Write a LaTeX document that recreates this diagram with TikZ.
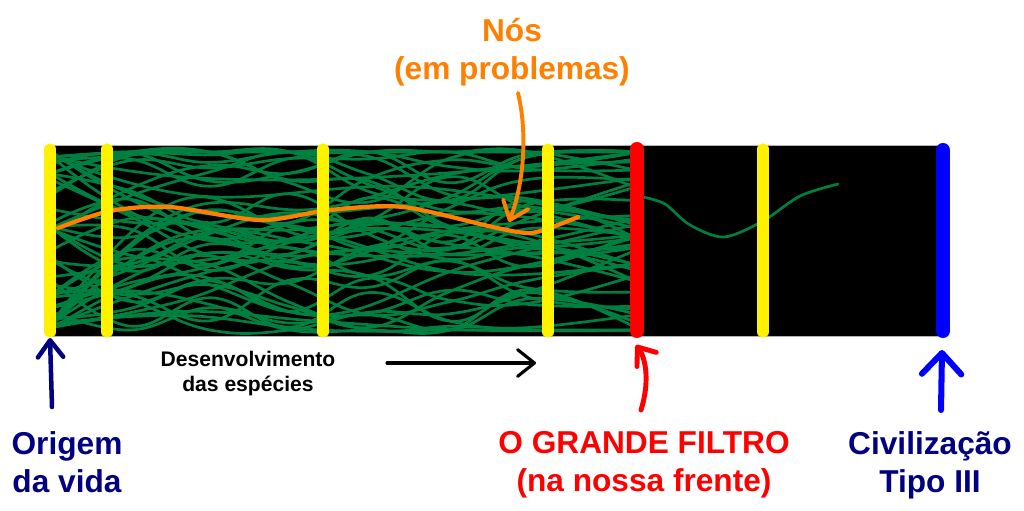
\documentclass[tikz,border=0pt]{standalone}
\usepackage{fontspec}
\setmainfont{Liberation Sans}
\usetikzlibrary{arrows.meta}

\definecolor{lifegreen}{RGB}{0,128,64}
\definecolor{usorange}{RGB}{255,128,0}
\definecolor{darknavy}{RGB}{0,0,128}

\begin{document}
\begin{tikzpicture}[x=0.025cm,y=-0.025cm,
    bar/.style={line width=#1,line cap=round},
    species/.style={lifegreen,line width=1.9pt,line cap=round},
    big/.style={font=\fontsize{22.5}{27}\selectfont\bfseries,align=center,inner sep=0pt,anchor=north},
    small/.style={font=\fontsize{15}{17.8}\selectfont\bfseries,align=center,inner sep=0pt,anchor=north},
    hand/.style n args={3}{line width=#1,line cap=round,line join=round,
      -{Straight Barb[round,length=#2,width=#3]}}]
  \useasboundingbox (0,0) rectangle (1024,511);
  % the box of time
  \coordinate (boxnw) at (50,145);
  \coordinate (boxse) at (945,336);
  \fill[black] (boxnw) rectangle (boxse);
  \draw[gray!60,thin] (boxnw) rectangle (boxse);
  % species lines, kept inside the box up to the filter
  \begin{scope}
    \clip (50,145) rectangle (637,336);
    \pgfmathsetseed{23}
    \foreach \i in {1,...,38} {
      \pgfmathsetmacro{\ya}{155+rnd*172}
      \pgfmathsetmacro{\yb}{min(330,max(152,\ya+rand*45))}
      \pgfmathsetmacro{\yc}{min(330,max(152,\yb+rand*45))}
      \pgfmathsetmacro{\yd}{min(330,max(152,\yc+rand*45))}
      \pgfmathsetmacro{\ye}{min(330,max(152,\yd+rand*45))}
      \pgfmathsetmacro{\yf}{min(330,max(152,\ye+rand*45))}
      \pgfmathsetmacro{\yg}{min(330,max(152,\yf+rand*45))}
      \pgfmathsetmacro{\yh}{min(330,max(152,\yg+rand*45))}
      \draw[species] plot[smooth,tension=0.7] coordinates
        {(52,\ya) (130,\yb) (210,\yc) (290,\yd) (370,\ye) (450,\yf) (530,\yg) (640,\yh)};
    }
    % fan out of the bottom left corner
    \foreach \i in {1,...,10} {
      \pgfmathsetmacro{\yb}{200+rnd*125}
      \pgfmathsetmacro{\yc}{min(330,max(152,\yb+rand*50))}
      \pgfmathsetmacro{\yd}{min(330,max(152,\yc+rand*50))}
      \pgfmathsetmacro{\ye}{min(330,max(152,\yd+rand*50))}
      \draw[species] plot[smooth,tension=0.7] coordinates
        {(52,{322+rnd*8}) (180,\yb) (320,\yc) (470,\yd) (640,\ye)};
    }
    % and a few from the top left corner
    \foreach \i in {1,...,5} {
      \pgfmathsetmacro{\yb}{170+rnd*110}
      \pgfmathsetmacro{\yc}{min(330,max(152,\yb+rand*50))}
      \pgfmathsetmacro{\yd}{min(330,max(152,\yc+rand*50))}
      \draw[species] plot[smooth,tension=0.7] coordinates
        {(52,{150+rnd*10}) (200,\yb) (420,\yc) (640,\yd)};
    }
  \end{scope}
  % the one line past the filter
  \draw[species] plot[smooth] coordinates
    {(643,197) (665,204) (690,225) (724,237) (763,221) (800,196) (838,184)};
  % us
  \draw[usorange,line width=3pt,line cap=round] plot[smooth] coordinates
    {(58,228) (110,211) (170,207) (260,220) (330,210) (403,207) (497,228) (530,233) (555,226) (578,217)};
  % steps on the way
  \foreach \x in {50,107,323,548,763}
    \draw[bar=8pt,yellow] (\x,149) -- (\x,332);
  \draw[bar=10pt,red] (637,149) -- (637,331);
  \draw[bar=10pt,blue] (943,150) -- (943,331);
  % labels
  \node[big,darknavy] (origem) at (67,431) {Origem\\da vida};
  \node[big,red] (filtro) at (644,431) {O GRANDE FILTRO\\(na nossa frente)};
  \node[big,darknavy] (civ) at (930,431) {Civilização\\Tipo III};
  \node[big,usorange] (nos) at (512,18) {Nós\\(em problemas)};
  \node[small] (desenv) at (248,351) {Desenvolvimento\\das espécies};
  % arrows
  \coordinate (origemfoot) at (52,407);
  \coordinate (origemtip) at (50,338);
  \draw[hand={3.2pt}{12pt}{18pt},darknavy] (origemfoot) -- (origemtip);
  \coordinate (filtrofoot) at (641,410);
  \coordinate (filtrotip) at (636,345);
  \draw[hand={3.5pt}{11pt}{17pt},red] (filtrofoot) .. controls (649,385) and (647,360) .. (filtrotip);
  \coordinate (civfoot) at (941,410);
  \coordinate (civtip) at (942,350);
  \draw[hand={4.3pt}{15pt}{28pt},blue] (civfoot) -- (civtip);
  \coordinate (nosfoot) at (518,93);
  \coordinate (nostip) at (509,222);
  \draw[hand={2.8pt}{12pt}{19pt},usorange] (nosfoot) .. controls (527,130) and (525,180) .. (nostip);
  \coordinate (devstart) at (387,363);
  \coordinate (devend) at (536,363);
  \draw[hand={2.2pt}{12pt}{19pt},black] (devstart) -- (devend);
\end{tikzpicture}
\end{document}
